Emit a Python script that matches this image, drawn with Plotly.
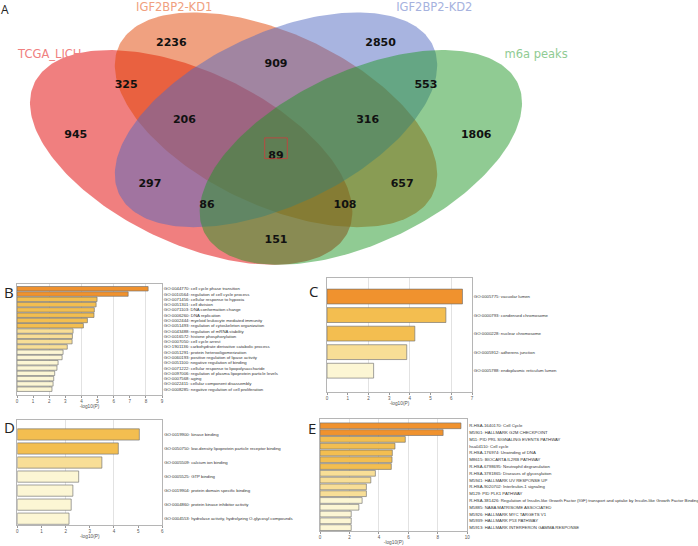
import numpy as np
import plotly.graph_objects as go

# ---- Venn (A) ----
set_names = ["TCGA_LICH", "IGF2BP2-KD1", "IGF2BP2-KD2", "m6a peaks"]
venn_counts = [2236, 2850, 909, 325, 553, 206, 316, 945, 1806, 89, 297, 657, 86, 108, 151]

# ---- enrichment bars (B-E) ----
b_terms = ["GO:0044770: cell cycle phase transition",
           "GO:0010564: regulation of cell cycle process",
           "GO:0071456: cellular response to hypoxia",
           "GO:0051301: cell division",
           "GO:0071103: DNA conformation change",
           "GO:0006260: DNA replication",
           "GO:0002444: myeloid leukocyte mediated immunity",
           "GO:0051493: regulation of cytoskeleton organization",
           "GO:0043488: regulation of mRNA stability",
           "GO:0016572: histone phosphorylation",
           "GO:0007050: cell cycle arrest",
           "GO:1901136: carbohydrate derivative catabolic process",
           "GO:0051291: protein heterooligomerization",
           "GO:0060193: positive regulation of lipase activity",
           "GO:0051100: negative regulation of binding",
           "GO:0071222: cellular response to lipopolysaccharide",
           "GO:0097006: regulation of plasma lipoprotein particle levels",
           "GO:0007568: aging",
           "GO:0022411: cellular component disassembly",
           "GO:0008285: negative regulation of cell proliferation"]
b_vals = [8.14, 6.9, 4.97, 4.91, 4.8, 4.78, 4.37, 4.12, 3.48, 3.44, 3.42, 3.12,
          2.86, 2.8, 2.55, 2.48, 2.34, 2.28, 2.24, 2.17]

c_terms = ["GO:0005775: vacuolar lumen",
           "GO:0000793: condensed chromosome",
           "GO:0000228: nuclear chromosome",
           "GO:0005912: adherens junction",
           "GO:0005788: endoplasmic reticulum lumen"]
c_vals = [6.54, 5.74, 4.24, 3.85, 2.25]

d_terms = ["GO:0019900: kinase binding",
           "GO:0050750: low-density lipoprotein particle receptor binding",
           "GO:0005509: calcium ion binding",
           "GO:0005525: GTP binding",
           "GO:0019904: protein domain specific binding",
           "GO:0004860: protein kinase inhibitor activity",
           "GO:0004553: hydrolase activity, hydrolyzing O-glycosyl compounds"]
d_vals = [5.05, 4.18, 3.5, 2.54, 2.3, 2.23, 2.14]

e_terms = ["R-HSA-1640170: Cell Cycle",
           "M5901: HALLMARK G2M CHECKPOINT",
           "M11: PID PRL SIGNALING EVENTS PATHWAY",
           "hsa04110: Cell cycle",
           "R-HSA-176974: Unwinding of DNA",
           "M8615: BIOCARTA IL2RB PATHWAY",
           "R-HSA-6798695: Neutrophil degranulation",
           "R-HSA-3781865: Diseases of glycosylation",
           "M5941: HALLMARK UV RESPONSE UP",
           "R-HSA-9020702: Interleukin-1 signaling",
           "M129: PID PLK1 PATHWAY",
           "R-HSA-381426: Regulation of Insulin-like Growth Factor (IGF) transport and uptake by Insulin-like Growth Factor Binding Proteins (IGFBPs)",
           "M5885: NABA MATRISOME ASSOCIATED",
           "M5926: HALLMARK MYC TARGETS V1",
           "M5939: HALLMARK P53 PATHWAY",
           "M5913: HALLMARK INTERFERON GAMMA RESPONSE"]
e_vals = [9.57, 8.36, 5.79, 5.09, 4.91, 4.89, 4.84, 3.76, 3.45, 3.15, 3.15,
          2.86, 2.64, 2.12, 2.12, 2.12]

W, H = 698, 546
fig = go.Figure()

# venn geometry (unit square, VennDiagram-style quad layout)
ell = [(0.35, 0.47, -45), (0.5, 0.57, -45), (0.5, 0.57, 45), (0.65, 0.47, 45)]
fills = ["rgba(225,0,0,0.5)", "rgba(225,67,1,0.5)",
         "rgba(81,105,193,0.5)", "rgba(33,151,39,0.5)"]
t = np.linspace(0, 2 * np.pi, 240)
for (cx, cy, ang), col in zip(ell, fills):
    r = np.radians(ang)
    ex = cx + 0.35 * np.cos(t) * np.cos(r) - 0.2 * np.sin(t) * np.sin(r)
    ey = cy + 0.35 * np.cos(t) * np.sin(r) + 0.2 * np.sin(t) * np.cos(r)
    fig.add_trace(go.Scatter(x=ex, y=ey, fill="toself", fillcolor=col, mode="lines",
                             line=dict(width=0), xaxis="x5", yaxis="y5", hoverinfo="skip"))

venn_font = "DejaVu Sans, Liberation Sans"
lab_x = [0.315, 0.685, 0.5, 0.235, 0.765, 0.338, 0.662, 0.146, 0.854, 0.5, 0.277, 0.723, 0.378, 0.622, 0.5]
lab_y = [0.773, 0.773, 0.717, 0.661, 0.661, 0.568, 0.568, 0.53, 0.53, 0.474, 0.399, 0.399, 0.344, 0.344, 0.251]
fig.add_trace(go.Scatter(x=lab_x, y=lab_y, mode="text", text=[str(v) for v in venn_counts],
                         textfont=dict(size=11, color="#111", weight="bold", family=venn_font),
                         xaxis="x5", yaxis="y5", hoverinfo="skip"))
name_x = [0.1, 0.32, 0.78, 0.96]
name_y = [0.742, 0.866, 0.866, 0.742]
name_cols = ["rgb(240,128,128)", "rgb(240,160,126)", "rgb(166,178,222)", "rgb(144,203,147)"]
fig.add_trace(go.Scatter(x=name_x, y=name_y, mode="text", text=set_names,
                         textfont=dict(size=11.5, color=name_cols, family=venn_font),
                         xaxis="x5", yaxis="y5", hoverinfo="skip"))
fig.add_shape(type="rect", xref="x5", yref="y5", x0=0.48, x1=0.52, y0=0.467, y1=0.522,
              line=dict(color="rgb(205,60,60)", width=0.8))


def bar_col(v):
    if v >= 6:
        return "#F0922E"
    if v >= 4:
        return "#F3BE50"
    if v >= 3:
        return "#F8DE96"
    return "#FCF6D4"


panels = [
    # terms, vals, xdomain(px), ydomain(px top,bottom), xmax, dtick, yrange, barwidth
    (b_terms, b_vals, (17, 162), (284, 395), 9, 1, [20.1, -0.9], 0.85),
    (c_terms, c_vals, (327, 472), (278, 392), 7, 1, [5.15, -1], 0.8),
    (d_terms, d_vals, (17.3, 162.3), (420, 525), 6, 1, [6.45, -1.03], 0.8),
    (e_terms, e_vals, (320, 467.3), (419, 531), 10, 2, [15.5, -1], 0.85),
]
lab_font = "Liberation Sans, Arial, sans-serif"
for i, (terms, vals, (x0, x1), (ytop, ybot), xmax, dt, yr, bw) in enumerate(panels):
    n = i + 1
    xs = "" if n == 1 else str(n)
    g = str(n + 5)
    fig.add_trace(go.Bar(x=vals, y=list(range(len(vals))), orientation="h", width=bw,
                         marker=dict(color=[bar_col(v) for v in vals],
                                     line=dict(color="rgba(110,110,110,0.8)", width=0.8)),
                         xaxis="x" + xs, yaxis="y" + xs, hoverinfo="skip"))
    # dummy trace so the gridline overlay axis is drawn
    fig.add_trace(go.Scatter(x=[None], y=[None], xaxis="x" + g, yaxis="y" + xs,
                             mode="markers", hoverinfo="skip"))
    xd = [x0 / W, x1 / W]
    yd = [1 - ybot / H, 1 - ytop / H]
    fig.update_layout({
        "xaxis" + xs: dict(domain=xd, range=[0, xmax], anchor="y" + xs, dtick=dt,
                           automargin=False,
                           showgrid=False, zeroline=False, showline=True, mirror=True,
                           linecolor="#b5b5b5", linewidth=1, ticks="outside", ticklen=2,
                           tickcolor="#999", tickfont=dict(size=4.5, color="#555", family=lab_font),
                           title=dict(text="-log10(P)", font=dict(size=4.8, color="#555", family=lab_font),
                                      standoff=1)),
        "yaxis" + xs: dict(domain=yd, range=yr, anchor="x" + xs, side="right",
                           automargin=False,
                           tickvals=list(range(len(terms))), ticktext=terms, ticks="",
                           showgrid=False, zeroline=False, showline=True, mirror=True,
                           linecolor="#b5b5b5", linewidth=1,
                           tickfont=dict(size=4.3, color="#333", family=lab_font)),
        "xaxis" + g: dict(overlaying="x" + xs, anchor="y" + xs, range=[0, xmax], dtick=2,
                          automargin=False,
                          showgrid=True, gridcolor="#e2e2e2", gridwidth=1, zeroline=False,
                          showticklabels=False, ticks="", showline=False),
    })

# venn is drawn wider than tall, as in the source figure
kx = 377 * 1.5
fig.update_layout(
    xaxis5=dict(domain=[0, 1], range=[0.5 - 276 / kx, 0.5 + (W - 276) / kx],
                visible=False, anchor="y5"),
    yaxis5=dict(domain=[1 - 275 / H, 1], range=[0.158, 0.888], visible=False, anchor="x5"),
)

letters = [("A", 5, 9, 12), ("B", 9, 292, 15), ("C", 313, 291, 15), ("D", 9, 427, 15), ("E", 312, 428, 15)]
for txt, px, py, sz in letters:
    fig.add_annotation(text=txt, x=px / W, y=1 - py / H, xref="paper", yref="paper",
                       showarrow=False, xanchor="center", yanchor="middle",
                       font=dict(size=sz, color="#222", family="Open Sans, Liberation Sans"))

fig.update_layout(width=W, height=H, margin=dict(l=0, r=0, t=0, b=0),
                  paper_bgcolor="white", plot_bgcolor="white", showlegend=False)
fig.write_html("out.html", config={"displayModeBar": False},
               post_script="document.body.style.margin='0px';")
